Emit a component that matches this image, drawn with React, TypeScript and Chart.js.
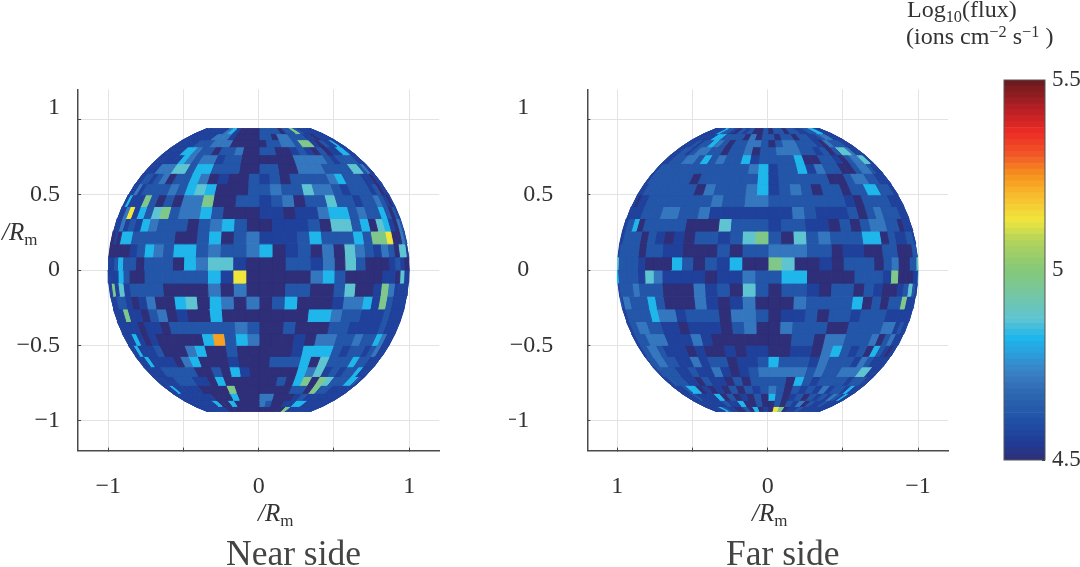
import React, { useEffect, useRef } from "react";
import { Chart, registerables } from "chart.js";

Chart.register(...registerables);

const LEVEL_VALUES = [4.5, 4.56, 4.62, 4.71, 4.82, 4.87, 4.97, 5.13, 5.23];

const LAT_TOP = 70;
const LON_LEFT = -90;
const BIN_DEGREES = 5;

// Each character is an index into LEVEL_VALUES; rows run north to south, columns left to right on screen.
const nearRows = [
  "111111 111113 410000 222202 262111 111111",
  "111111 111133 310000 220332 221101 111111",
  "111111 112223 330000 022332 661021 141111",
  "111111 144322 022300 220012 102011 441111",
  "111111 114323 312200 000033 332122 221111",
  "111113 335524 422200 220033 322225 523111",
  "111221 230224 301002 120222 234222 110111",
  "111312 222324 540002 232253 321222 120111",
  "114111 620203 360022 123022 522122 321012",
  "111371 425623 342000 110113 442322 420211",
  "111312 143222 023420 011120 552405 410321",
  "001044 222220 024023 111242 224266 700321",
  "000000 124324 423223 401203 053213 205511",
  "111242 202220 435510 002213 052000 121001",
  "111142 002222 224170 000034 200001 105111",
  "116151 222200 003030 002200 250016 311111",
  "111221 013004 504303 024000 133416 211111",
  "111161 102301 004000 000044 322111 211111",
  "111111 011022 222232 002000 221111 211111",
  "111141 010000 048243 000103 322322 431111",
  "111411 120003 400200 000144 421221 231111",
  "111141 111034 000100 022240 522242 211111",
  "111111 222220 020410 000043 512122 411111",
  "111111 122211 040000 002046 065222 442111",
  "111141 111100 006000 000022 062211 111111",
  "111111 111110 004000 330001 211111 111111",
  "111111 111140 040000 320011 441111 111111",
  "111111 111110 000000 000006 111111 111111",
];

const farRows = [
  "111111 142210 212002 022022 112244 111111",
  "111111 114422 220302 202202 211233 111111",
  "111112 122432 022332 023322 210322 211111",
  "111122 123322 022302 233322 120255 311111",
  "111122 233242 322412 222400 221023 355111",
  "112222 222222 222234 122413 220023 321111",
  "112222 222202 222224 122222 002332 211111",
  "111222 222220 322234 123202 202244 222111",
  "110112 222222 232233 222222 210222 211111",
  "111112 223322 311111 113211 120232 221111",
  "112240 222220 005222 122110 202332 201111",
  "112222 021010 221256 205232 224402 112211",
  "122222 022110 002022 333220 110022 000221",
  "522222 100042 021400 650010 222023 002256",
  "422222 153111 101132 244000 022216 000114",
  "122223 222000 312052 022102 202100 125211",
  "213322 242000 310130 003222 240202 261111",
  "112222 243312 220332 011202 212221 111111",
  "112233 221101 110230 032220 022223 312111",
  "112223 331113 100000 002203 322230 231111",
  "112233 211101 001011 001103 421204 210111",
  "122233 221131 220112 422213 222132 111111",
  "112222 211211 310123 333323 223335 511111",
  "111222 211021 102022 220421 222212 221111",
  "111112 440101 020212 320212 131221 411111",
  "111112 111140 201020 420120 212132 141111",
  "111111 111121 140020 020213 021121 111111",
  "111111 142110 020401 076011 211111 111111",
];

const axisTicks = [-1, -0.5, 0, 0.5, 1];
const xLabelled = [-1, 0, 1];
const colorbarMin = 4.5;
const colorbarMax = 5.5;
const colorbarTicks = [4.5, 4.6, 4.7, 4.8, 4.9, 5, 5.1, 5.2, 5.3, 5.4, 5.5];
const colorbarLabelled = [4.5, 5, 5.5];
const COLORBAR_BANDS = 64;

const colorStops: [number, number[]][] = [
  [4.5, [46, 47, 120]],
  [4.55, [31, 61, 152]],
  [4.6, [32, 80, 165]],
  [4.66, [42, 98, 174]],
  [4.73, [58, 128, 196]],
  [4.78, [42, 159, 220]],
  [4.82, [31, 182, 236]],
  [4.87, [95, 196, 210]],
  [4.97, [128, 200, 138]],
  [5.0, [133, 200, 120]],
  [5.08, [182, 212, 90]],
  [5.13, [240, 230, 60]],
  [5.2, [249, 184, 44]],
  [5.25, [246, 146, 30]],
  [5.3, [241, 90, 41]],
  [5.36, [238, 44, 36]],
  [5.42, [185, 32, 37]],
  [5.5, [101, 27, 30]],
];

function colorFor(v: number): string {
  for (let i = 1; i < colorStops.length; i++) {
    const [b, cb] = colorStops[i];
    if (v <= b) {
      const [a, ca] = colorStops[i - 1];
      const t = Math.max(0, (v - a) / (b - a));
      const c = ca.map((q, k) => Math.round(q + (cb[k] - q) * t));
      return `rgb(${c[0]},${c[1]},${c[2]})`;
    }
  }
  return "rgb(101,27,30)";
}

const rad = (d: number) => (d * Math.PI) / 180;

function project(lonDeg: number, latDeg: number, xSign: number) {
  return {
    x: xSign * Math.sin(rad(lonDeg)) * Math.cos(rad(latDeg)),
    y: Math.sin(rad(latDeg)),
  };
}

function cellDatasets(rows: string[], xSign: number) {
  const out: any[] = [];
  rows.forEach((rowText, r) => {
    const cells = rowText.replace(/ /g, "");
    const latA = LAT_TOP - r * BIN_DEGREES;
    const latB = latA - BIN_DEGREES;
    for (let c = 0; c < cells.length; c++) {
      const lonA = LON_LEFT + c * BIN_DEGREES;
      const lonB = lonA + BIN_DEGREES;
      const color = colorFor(LEVEL_VALUES[Number(cells[c])]);
      out.push({
        type: "scatter",
        showLine: true,
        fill: "shape",
        backgroundColor: color,
        borderColor: color,
        borderWidth: 1,
        pointRadius: 0,
        tension: 0,
        data: [
          project(lonA, latA, xSign),
          project(lonB, latA, xSign),
          project(lonB, latB, xSign),
          project(lonA, latB, xSign),
          project(lonA, latA, xSign),
        ],
      });
    }
  });
  return out;
}

const SERIF = "'Liberation Serif', serif";
const AXIS_DARK = "#4a4a4a";
const TEXT_DARK = "#333333";

function minus(v: number) {
  return String(v).replace("-", "\u2212");
}

function sphereConfig(
  rows: string[],
  reversed: boolean,
  canvasH: number,
  axisX: number,
  areaW: number,
  canvasW: number,
  yPadding: number,
  yLabel: (v: number) => string
) {
  const topPad = 89.4;
  const bottomY = 450.6;
  return {
    type: "scatter",
    data: { datasets: cellDatasets(rows, reversed ? -1 : 1) },
    options: {
      responsive: false,
      animation: false,
      events: [],
      layout: { padding: { top: topPad, right: canvasW - axisX - areaW, left: 0, bottom: 0 } },
      plugins: { legend: { display: false }, tooltip: { enabled: false }, title: { display: false } },
      scales: {
        x: {
          type: "linear",
          min: -1.2,
          max: 1.2,
          reverse: reversed,
          afterBuildTicks: (a: any) => {
            a.ticks = axisTicks.map((value) => ({ value }));
          },
          afterFit: (a: any) => {
            a.height = canvasH - bottomY;
            a.paddingLeft = 0;
            a.paddingRight = 0;
          },
          border: { color: AXIS_DARK, width: 1.5 },
          grid: { color: "#e3e3e3", lineWidth: 1, tickLength: -3, tickColor: "#444" },
          ticks: {
            autoSkip: false,
            maxRotation: 0,
            padding: 25,
            color: TEXT_DARK,
            font: { family: SERIF, size: 24 },
            callback: (v: number) => (xLabelled.includes(v) ? minus(v) : ""),
          },
        },
        y: {
          type: "linear",
          min: -1.2,
          max: 1.2,
          afterBuildTicks: (a: any) => {
            a.ticks = axisTicks.map((value) => ({ value }));
          },
          afterFit: (a: any) => {
            a.width = axisX;
            a.paddingTop = 0;
            a.paddingBottom = 0;
          },
          border: { color: AXIS_DARK, width: 1.5 },
          grid: { color: "#e3e3e3", lineWidth: 1, tickLength: -3, tickColor: "#444" },
          ticks: {
            autoSkip: false,
            padding: yPadding,
            color: TEXT_DARK,
            font: { family: SERIF, size: 24, lineHeight: 1 },
            // The topmost label sits one half line above its tick in the reference.
            callback: (v: number) => (v === 1 ? [yLabel(v), ""] : yLabel(v)),
          },
        },
      },
    },
  };
}

const frameBox = {
  id: "frameBox",
  afterDraw(chart: any) {
    const { ctx, chartArea: a } = chart;
    ctx.save();
    ctx.strokeStyle = "#555";
    ctx.lineWidth = 1;
    ctx.strokeRect(a.left, a.top, a.right - a.left, a.bottom - a.top);
    ctx.restore();
  },
};

function colorbarConfig() {
  const step = (colorbarMax - colorbarMin) / COLORBAR_BANDS;
  const datasets = Array.from({ length: COLORBAR_BANDS }, (_, i) => {
    const lo = colorbarMin + i * step;
    return {
      data: [[lo, lo + step]],
      backgroundColor: colorFor(lo + step / 2),
      borderWidth: 0,
      grouped: false,
      barPercentage: 1,
      categoryPercentage: 1,
    };
  });
  return {
    type: "bar",
    data: { labels: ["flux"], datasets },
    plugins: [frameBox],
    options: {
      responsive: false,
      animation: false,
      events: [],
      layout: { padding: { top: 10, left: 10, bottom: 10, right: 0 } },
      plugins: { legend: { display: false }, tooltip: { enabled: false } },
      scales: {
        x: { display: false },
        y: {
          position: "right",
          min: colorbarMin,
          max: colorbarMax,
          afterBuildTicks: (a: any) => {
            a.ticks = colorbarTicks.map((value) => ({ value }));
          },
          afterFit: (a: any) => {
            a.width = 35;
            a.paddingTop = 0;
            a.paddingBottom = 0;
          },
          border: { display: false },
          grid: { drawOnChartArea: false, tickLength: -3, tickColor: "#333" },
          ticks: {
            autoSkip: false,
            padding: 10,
            color: TEXT_DARK,
            font: { family: SERIF, size: 23 },
            callback: (v: number) =>
              colorbarLabelled.includes(Number(v.toFixed(1))) ? String(Number(v.toFixed(1))) : "",
          },
        },
      },
    },
  };
}

function Lbl({ x, base, size, color = TEXT_DARK, children }: any) {
  return (
    <span
      style={{
        position: "absolute",
        left: x,
        top: base - 0.8375 * size,
        fontFamily: SERIF,
        fontSize: size,
        lineHeight: `${size}px`,
        color,
        whiteSpace: "nowrap",
      }}
    >
      {children}
    </span>
  );
}

const subStyle = { fontSize: "68%", lineHeight: 0, position: "relative", top: "0.3em", verticalAlign: "baseline" } as const;
const supStyle = { fontSize: "68%", lineHeight: 0, position: "relative", top: "-0.45em", verticalAlign: "baseline" } as const;

function RmLabel() {
  return (
    <>
      <i>/R</i>
      <span style={subStyle}>m</span>
    </>
  );
}

// On the far side the whole-number labels line up with the units digit of the decimals.
const farLabel = (v: number) => (Number.isInteger(v) ? minus(v) + "\u2007\u2007" : minus(v));

export default function App() {
  const nearRef = useRef<HTMLCanvasElement>(null);
  const farRef = useRef<HTMLCanvasElement>(null);
  const barRef = useRef<HTMLCanvasElement>(null);

  useEffect(() => {
    const charts = [
      new Chart(nearRef.current as any, sphereConfig(nearRows, false, 520, 78.1, 361.2, 470, 21, minus) as any),
      new Chart(farRef.current as any, sphereConfig(farRows, true, 520, 78.3, 360.8, 470, 37, farLabel) as any),
      new Chart(barRef.current as any, colorbarConfig() as any),
    ];
    return () => charts.forEach((c) => c.destroy());
  }, []);

  return (
    <div style={{ position: "absolute", left: 0, top: 0, width: 1080, height: 567, overflow: "hidden", background: "#fff" }}>
      <canvas ref={nearRef} width={470} height={520} style={{ position: "absolute", left: 0, top: 0 }} />
      <canvas ref={farRef} width={470} height={520} style={{ position: "absolute", left: 509, top: 0 }} />
      <canvas ref={barRef} width={86} height={400} style={{ position: "absolute", left: 994, top: 70 }} />

      <Lbl x={907} base={17} size={24}>
        Log<span style={subStyle}>10</span>(flux)
      </Lbl>
      <Lbl x={906} base={44} size={24}>
        (ions cm<span style={supStyle}>{"\u2212"}2</span> s<span style={supStyle}>{"\u2212"}1</span> )
      </Lbl>

      <Lbl x={2} base={240} size={25}>
        <RmLabel />
      </Lbl>
      <Lbl x={258} base={521} size={25}>
        <RmLabel />
      </Lbl>
      <Lbl x={752} base={521} size={25}>
        <RmLabel />
      </Lbl>

      <Lbl x={226} base={566} size={35.5} color="#444">
        Near side
      </Lbl>
      <Lbl x={726} base={566} size={35.5} color="#444">
        Far side
      </Lbl>
    </div>
  );
}
